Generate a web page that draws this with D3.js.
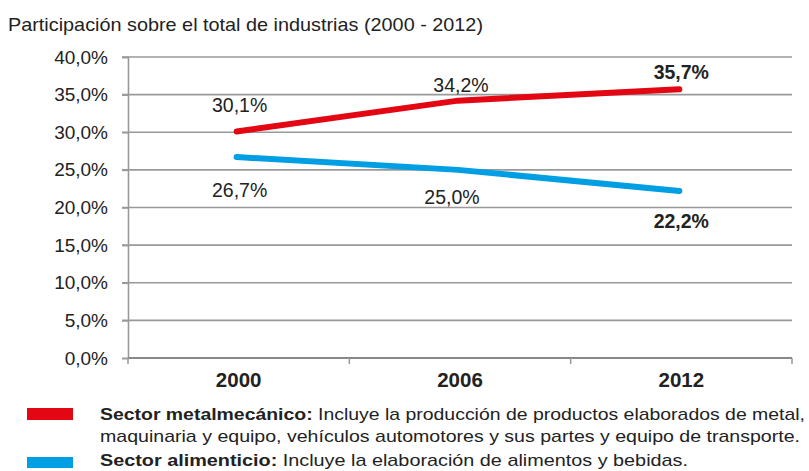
<!DOCTYPE html>
<html><head><meta charset="utf-8">
<script src="https://cdn.jsdelivr.net/npm/d3@7"></script>
<style>body{margin:0;background:#fff}svg{display:block}text{font-family:"Liberation Sans",Arial,sans-serif;fill:#222}</style>
</head><body><svg id="c" width="809" height="471"></svg>
<script>
const years = ["2000","2006","2012"];
const metal = [30.1, 34.2, 35.7];
const alim = [26.7, 25.0, 22.2];
const yTicks = [0,5,10,15,20,25,30,35,40];
const title = "Participación sobre el total de industrias (2000 - 2012)";
const legendItems = [
  {color:"#e30613", bold:"Sector metalmecánico:", rest:" Incluye la producción de productos elaborados de metal,", line2:"maquinaria y equipo, vehículos automotores y sus partes y equipo de transporte."},
  {color:"#009fe3", bold:"Sector alimenticio:", rest:" Incluye la elaboración de alimentos y bebidas."}
];
const fmt = v => v.toFixed(1).replace(".", ",") + "%";

const svg = d3.select("#c");
const x = d3.scaleBand().domain(years).range([128, 792]);
const y = d3.scaleLinear().domain([0, 40]).range([358, 57]);

svg.append("text").attr("x", 8).attr("y", 31).attr("font-size", 18.5)
  .attr("textLength", 475).attr("lengthAdjust", "spacingAndGlyphs").attr("fill", "#333").text(title);

// gridlines
svg.append("g").selectAll("line").data(yTicks.filter(d => d > 0)).join("line")
  .attr("x1", 122).attr("x2", 792).attr("y1", d => y(d)).attr("y2", d => y(d))
  .attr("stroke", "#999").attr("stroke-width", 1.6);
// y axis
const ya = svg.append("g").attr("transform", "translate(128,0)")
  .call(d3.axisLeft(y).tickValues(yTicks).tickSize(6).tickPadding(14).tickFormat(fmt));
ya.select(".domain").attr("stroke", "#999").attr("stroke-width", 1.6);
ya.selectAll(".tick line").attr("stroke", "#999").attr("stroke-width", 1.6);
ya.selectAll(".tick text").attr("font-size", 19).attr("font-family", "Liberation Sans, Arial, sans-serif").attr("fill", "#222");
// x axis
const xa = svg.append("g").attr("transform", "translate(0,358)")
  .call(d3.axisBottom(x).tickSize(0).tickPadding(14));
xa.select(".domain").attr("stroke", "#888").attr("stroke-width", 2.2).attr("d", "M128,0H792");
xa.selectAll(".tick text").attr("font-size", 20.5).attr("font-weight", "bold").attr("font-family", "Liberation Sans, Arial, sans-serif").attr("fill", "#222")
  .attr("dy", "0.72em");
// x tick marks at band edges
svg.append("g").selectAll("line").data(years.map(d => x(d)).concat([x.range()[1]])).join("line")
  .attr("x1", d => d).attr("x2", d => d).attr("y1", 358).attr("y2", 364)
  .attr("stroke", "#999").attr("stroke-width", 1.5);

const cx = d => x(d) + x.bandwidth() / 2 - 2;
const line = d3.line().x((d, i) => cx(years[i])).y(d => y(d));
svg.append("path").datum(metal).attr("d", line).attr("fill", "none").attr("stroke", "#e30613").attr("stroke-width", 6).attr("stroke-linecap", "round");
svg.append("path").datum(alim).attr("d", line).attr("fill", "none").attr("stroke", "#009fe3").attr("stroke-width", 6).attr("stroke-linecap", "round");

// data labels
const mOff = [[3,-19],[3,-9],[2,-10]];
const aOff = [[3,40],[-6,34],[2,37]];
function dl(v, i, off) {
  svg.append("text").attr("x", cx(years[i]) + off[0]).attr("y", y(v) + off[1])
    .attr("text-anchor", "middle").attr("font-size", 19.5).attr("font-weight", i === 2 ? "bold" : "normal")
    .text(fmt(v));
}
metal.forEach((v, i) => dl(v, i, mOff[i]));
alim.forEach((v, i) => dl(v, i, aOff[i]));

// legend
const lg = svg.append("g");
lg.append("rect").attr("x", 27).attr("y", 408).attr("width", 46).attr("height", 12).attr("fill", legendItems[0].color);
lg.append("rect").attr("x", 27).attr("y", 457).attr("width", 46).attr("height", 11).attr("fill", legendItems[1].color);
function legText(yy, item, len) {
  const t = lg.append("text").attr("x", 100).attr("y", yy).attr("font-size", 17)
    .attr("font-family", "'Liberation Sans Narrow', 'Liberation Sans', Arial, sans-serif")
    .attr("textLength", len).attr("lengthAdjust", "spacingAndGlyphs");
  t.append("tspan").attr("font-weight", "bold").text(item.bold);
  t.append("tspan").text(item.rest);
}
legText(420, legendItems[0], 705);
lg.append("text").attr("x", 100).attr("y", 442).attr("font-size", 17)
  .attr("font-family", "'Liberation Sans Narrow', 'Liberation Sans', Arial, sans-serif")
  .attr("textLength", 700).attr("lengthAdjust", "spacingAndGlyphs").text(legendItems[0].line2);
legText(466, legendItems[1], 588);
</script></body></html>
